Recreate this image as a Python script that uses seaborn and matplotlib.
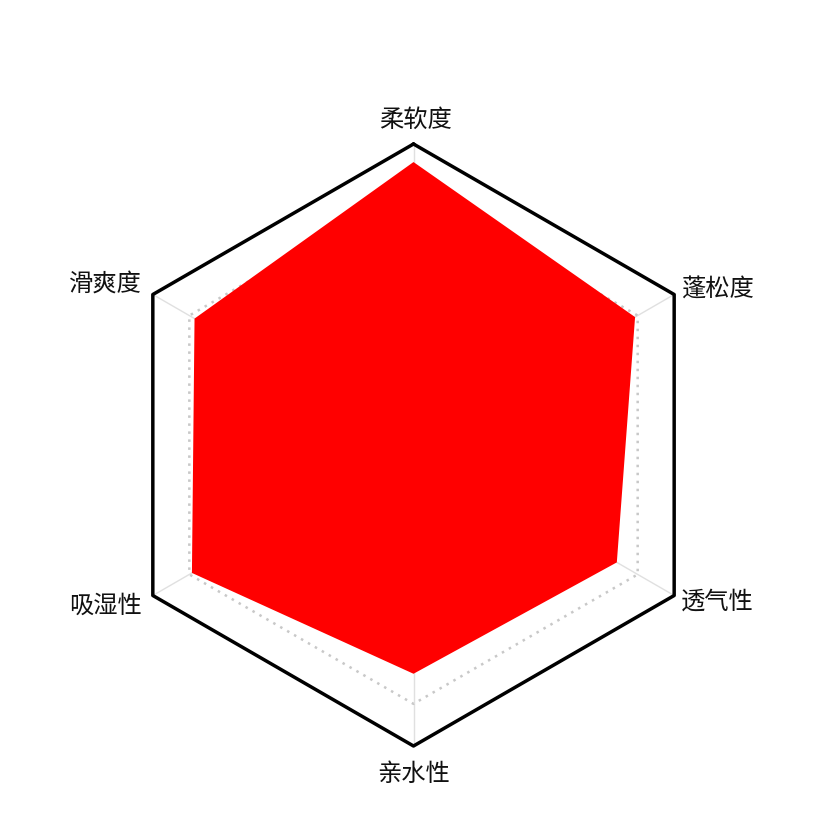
import numpy as np
import matplotlib
matplotlib.use("Agg")
import matplotlib.pyplot as plt
import seaborn as sns

# data (scale 0-100)
labels = ['柔软度', '蓬松度', '透气性', '亲水性', '吸湿性', '滑爽度']
values = [94, 85, 78, 76, 85, 84]
max_value = 100
dotted_level = 86

sns.set_theme(style="white")
plt.rcParams['font.family'] = ['Noto Sans CJK SC', 'DejaVu Sans']

W, H, dpi = 817, 814, 100
cx, cy, R = 413.5, 814 - 445, 301.0   # centre and radius in pixels

fig = plt.figure(figsize=(W / dpi, H / dpi), dpi=dpi)
ax = fig.add_axes([0, 0, 1, 1])
ax.set_xlim(-cx / R, (W - cx) / R)
ax.set_ylim(-cy / R, (H - cy) / R)
ax.axis('off')

n = len(labels)
angles = np.deg2rad(90 - np.arange(n) * 360 / n)
ux, uy = np.cos(angles), np.sin(angles)


def closed(arr):
    return np.append(arr, arr[0])


# radial spokes
for x, y in zip(ux, uy):
    ax.plot([0, x], [0, y], color='#e0e0e0', lw=1, zorder=1)

# dotted inner ring
r = dotted_level / max_value
sns.lineplot(x=closed(ux * r), y=closed(uy * r), sort=False, estimator=None,
             ax=ax, color='#c8c8c8', lw=1.8, linestyle=(0, (1, 2.2)), zorder=1)

# data polygon
v = np.array(values) / max_value
ax.fill(ux * v, uy * v, color='#ff0000', lw=0, zorder=2)

# outer frame
sns.lineplot(x=closed(ux), y=closed(uy), sort=False, estimator=None, ax=ax,
             color='black', lw=2.5, zorder=3)

# label offsets in pixels (dx, dy with y up), alignment
offsets = [(2, 24, 'center'), (7, 5, 'left'), (7, -6.5, 'left'),
           (0, -27.5, 'center'), (-11, -10.5, 'right'), (-11, 11, 'right')]
for lab, x, y, (dx, dy, ha) in zip(labels, ux, uy, offsets):
    ax.annotate(lab, (x, y), xytext=(dx * 0.72, dy * 0.72),
                textcoords='offset points', ha=ha, va='center',
                fontsize=17.5, color='#111111')

fig.savefig('out.png', dpi=dpi)
